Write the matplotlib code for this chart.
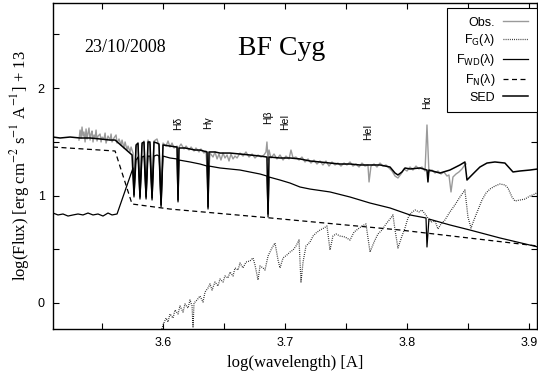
import matplotlib
matplotlib.use("Agg")
import matplotlib.pyplot as plt
from matplotlib.font_manager import FontProperties
from matplotlib.lines import Line2D

# ---------------- data (log wavelength, log flux + 13) ----------------
sed = [(3.5098, 1.544), (3.5156, 1.535), (3.5238, 1.544), (3.5320, 1.535), (3.5402, 1.535),
       (3.5484, 1.526), (3.5566, 1.516), (3.5607, 1.516), (3.5746, 1.377), (3.5762, 1.005),
       (3.5779, 1.470), (3.5795, 1.488), (3.5811, 0.986), (3.5828, 1.488), (3.5844, 1.498),
       (3.5861, 0.986), (3.5877, 1.498), (3.5893, 1.498), (3.5910, 0.977), (3.5926, 1.498),
       (3.5951, 1.488), (3.5967, 1.479), (3.5984, 0.912), (3.6000, 1.470), (3.6057, 1.460),
       (3.6115, 1.451), (3.6123, 0.958), (3.6131, 1.442), (3.6180, 1.442), (3.6221, 1.433),
       (3.6262, 1.423), (3.6303, 1.423), (3.6361, 1.405), (3.6369, 0.893), (3.6377, 1.405),
       (3.6426, 1.405), (3.6467, 1.395), (3.6549, 1.395), (3.6631, 1.386), (3.6713, 1.377),
       (3.6795, 1.367), (3.6852, 1.358), (3.6861, 0.828), (3.6869, 1.358), (3.6959, 1.349),
       (3.7041, 1.349), (3.7123, 1.340), (3.7205, 1.321), (3.7287, 1.312), (3.7369, 1.302),
       (3.7451, 1.293), (3.7533, 1.293), (3.7615, 1.284), (3.7697, 1.284), (3.7779, 1.284),
       (3.7861, 1.265), (3.7902, 1.209), (3.7926, 1.191), (3.7959, 1.219), (3.7984, 1.256),
       (3.8025, 1.247), (3.8107, 1.256), (3.8164, 1.237), (3.8172, 1.126), (3.8180, 1.237),
       (3.8270, 1.209), (3.8352, 1.237), (3.8434, 1.284), (3.8475, 1.312), (3.8492, 1.144),
       (3.8516, 1.172), (3.8557, 1.219), (3.8598, 1.265), (3.8656, 1.302), (3.8721, 1.312),
       (3.8803, 1.302), (3.8869, 1.219), (3.8926, 1.228), (3.9008, 1.237), (3.9074, 1.247)]

f_wd = [(3.5098, 0.837), (3.5139, 0.819), (3.5180, 0.828), (3.5221, 0.809), (3.5262, 0.819),
        (3.5303, 0.828), (3.5344, 0.819), (3.5385, 0.837), (3.5426, 0.819), (3.5467, 0.828),
        (3.5508, 0.809), (3.5549, 0.837), (3.5582, 0.819), (3.5623, 0.828), (3.5754, 1.256),
        (3.5762, 0.986), (3.5779, 1.330), (3.5795, 1.358), (3.5811, 0.967), (3.5828, 1.358),
        (3.5844, 1.367), (3.5861, 0.967), (3.5877, 1.367), (3.5893, 1.367), (3.5910, 0.958),
        (3.5926, 1.367), (3.5951, 1.377), (3.5967, 1.367), (3.5984, 0.893), (3.6000, 1.367),
        (3.6057, 1.349), (3.6115, 1.340), (3.6123, 0.940), (3.6131, 1.330), (3.6221, 1.312),
        (3.6303, 1.293), (3.6361, 1.274), (3.6369, 0.874), (3.6377, 1.274), (3.6467, 1.256),
        (3.6631, 1.237), (3.6795, 1.200), (3.6852, 1.181), (3.6861, 0.800), (3.6869, 1.172),
        (3.6959, 1.144), (3.7041, 1.116), (3.7123, 1.079), (3.7205, 1.060), (3.7369, 1.033),
        (3.7533, 0.986), (3.7697, 0.930), (3.7861, 0.884), (3.8025, 0.819), (3.8156, 0.791),
        (3.8164, 0.521), (3.8180, 0.781), (3.8352, 0.726), (3.8516, 0.679), (3.8762, 0.605),
        (3.9074, 0.521)]

f_n = [(3.5098, 1.451), (3.5607, 1.414), (3.5746, 0.921), (3.6057, 0.874),
       (3.6795, 0.800), (3.7943, 0.679), (3.9074, 0.530)]

f_g = [(3.5975, -0.298), (3.6000, -0.205), (3.6025, -0.140), (3.6041, -0.177), (3.6057, -0.102),
       (3.6082, -0.140), (3.6098, -0.065), (3.6123, -0.102), (3.6139, -0.028), (3.6164, -0.084),
       (3.6180, -0.009), (3.6205, -0.047), (3.6221, 0.028), (3.6238, -0.028), (3.6246, -0.223),
       (3.6254, 0.000), (3.6279, 0.028), (3.6303, 0.065), (3.6328, 0.009), (3.6344, 0.102),
       (3.6369, 0.140), (3.6385, 0.177), (3.6402, 0.121), (3.6426, 0.195), (3.6451, 0.158),
       (3.6467, 0.223), (3.6492, 0.195), (3.6508, 0.251), (3.6533, 0.233), (3.6549, 0.288),
       (3.6574, 0.251), (3.6590, 0.326), (3.6615, 0.307), (3.6631, 0.372), (3.6656, 0.326),
       (3.6680, 0.381), (3.6713, 0.391), (3.6738, 0.419), (3.6754, 0.353), (3.6779, 0.214),
       (3.6795, 0.344), (3.6820, 0.326), (3.6836, 0.307), (3.6861, 0.437), (3.6893, 0.512),
       (3.6918, 0.558), (3.6943, 0.400), (3.6959, 0.326), (3.6984, 0.419), (3.7016, 0.447),
       (3.7041, 0.474), (3.7066, 0.493), (3.7090, 0.530), (3.7115, 0.586), (3.7131, 0.195),
       (3.7148, 0.381), (3.7172, 0.530), (3.7205, 0.567), (3.7230, 0.623), (3.7254, 0.651),
       (3.7287, 0.679), (3.7320, 0.698), (3.7344, 0.716), (3.7369, 0.493), (3.7393, 0.623),
       (3.7418, 0.642), (3.7451, 0.623), (3.7492, 0.614), (3.7533, 0.586), (3.7566, 0.660),
       (3.7598, 0.688), (3.7631, 0.716), (3.7664, 0.735), (3.7697, 0.474), (3.7730, 0.567),
       (3.7762, 0.642), (3.7795, 0.679), (3.7828, 0.735), (3.7861, 0.781), (3.7885, 0.819),
       (3.7902, 0.679), (3.7926, 0.512), (3.7959, 0.623), (3.7984, 0.698), (3.8008, 0.791),
       (3.8033, 0.837), (3.8066, 0.865), (3.8098, 0.847), (3.8123, 0.865), (3.8148, 0.828),
       (3.8172, 0.791), (3.8197, 0.753), (3.8230, 0.763), (3.8254, 0.688), (3.8279, 0.735),
       (3.8311, 0.772), (3.8352, 0.847), (3.8393, 0.912), (3.8434, 0.986), (3.8475, 1.051),
       (3.8500, 0.800), (3.8525, 0.698), (3.8549, 0.772), (3.8582, 0.865), (3.8615, 0.958),
       (3.8648, 1.023), (3.8680, 1.060), (3.8721, 1.088), (3.8762, 1.107), (3.8803, 1.098),
       (3.8828, 1.070), (3.8861, 0.986), (3.8885, 0.949), (3.8926, 0.958), (3.8967, 0.967),
       (3.9008, 0.995), (3.9049, 1.014), (3.9074, 1.033)]

obs = [(3.5311, 1.516), (3.5320, 1.609), (3.5328, 1.535), (3.5336, 1.637), (3.5344, 1.553),
       (3.5352, 1.591), (3.5361, 1.498), (3.5369, 1.619), (3.5377, 1.526), (3.5385, 1.581),
       (3.5393, 1.628), (3.5402, 1.516), (3.5410, 1.572), (3.5418, 1.600), (3.5426, 1.498),
       (3.5434, 1.563), (3.5443, 1.535), (3.5451, 1.609), (3.5459, 1.507), (3.5467, 1.553),
       (3.5484, 1.572), (3.5492, 1.498), (3.5500, 1.544), (3.5516, 1.526), (3.5525, 1.581),
       (3.5533, 1.488), (3.5549, 1.553), (3.5566, 1.516), (3.5574, 1.572), (3.5582, 1.498),
       (3.5598, 1.535), (3.5615, 1.563), (3.5623, 1.488), (3.5639, 1.526), (3.5656, 1.470),
       (3.5664, 1.516), (3.5680, 1.442), (3.5689, 1.498), (3.5705, 1.423), (3.5713, 1.460),
       (3.5730, 1.405), (3.5738, 1.451), (3.5754, 1.395),
       (3.5762, 1.051), (3.5779, 1.451), (3.5795, 1.479), (3.5811, 1.033), (3.5828, 1.460),
       (3.5844, 1.507), (3.5861, 1.033), (3.5877, 1.516), (3.5893, 1.470), (3.5910, 1.023),
       (3.5926, 1.507), (3.5951, 1.526), (3.5967, 1.460), (3.5984, 0.958),
       (3.6000, 1.488), (3.6025, 1.460), (3.6041, 1.507), (3.6057, 1.451), (3.6074, 1.488),
       (3.6090, 1.442), (3.6115, 1.460), (3.6123, 1.144), (3.6131, 1.451), (3.6148, 1.479),
       (3.6172, 1.433), (3.6189, 1.460), (3.6213, 1.423), (3.6230, 1.451), (3.6254, 1.414),
       (3.6270, 1.442), (3.6295, 1.405), (3.6311, 1.433), (3.6336, 1.395), (3.6352, 1.414),
       (3.6369, 1.098), (3.6385, 1.395), (3.6410, 1.358), (3.6426, 1.405), (3.6443, 1.340),
       (3.6459, 1.386), (3.6475, 1.330), (3.6492, 1.395), (3.6508, 1.349), (3.6525, 1.377),
       (3.6541, 1.321), (3.6557, 1.386), (3.6574, 1.340), (3.6590, 1.367), (3.6607, 1.349),
       (3.6631, 1.395), (3.6656, 1.367), (3.6680, 1.405), (3.6705, 1.358), (3.6730, 1.386),
       (3.6754, 1.349), (3.6779, 1.377), (3.6803, 1.358), (3.6828, 1.377), (3.6844, 1.405),
       (3.6852, 1.498), (3.6861, 1.330), (3.6869, 1.423), (3.6885, 1.349), (3.6910, 1.386),
       (3.6934, 1.340), (3.6959, 1.377), (3.6984, 1.330), (3.7008, 1.367), (3.7033, 1.340),
       (3.7049, 1.423), (3.7066, 1.349), (3.7090, 1.358), (3.7115, 1.330), (3.7139, 1.358),
       (3.7164, 1.312), (3.7189, 1.340), (3.7213, 1.302), (3.7238, 1.330), (3.7262, 1.293),
       (3.7287, 1.321), (3.7311, 1.284), (3.7336, 1.321), (3.7361, 1.274), (3.7385, 1.312),
       (3.7410, 1.284), (3.7434, 1.302), (3.7459, 1.274), (3.7484, 1.302), (3.7508, 1.284),
       (3.7533, 1.312), (3.7557, 1.274), (3.7582, 1.293), (3.7607, 1.265), (3.7631, 1.302),
       (3.7656, 1.274), (3.7680, 1.284), (3.7689, 1.126), (3.7705, 1.274), (3.7730, 1.293),
       (3.7754, 1.265), (3.7779, 1.302), (3.7803, 1.274), (3.7828, 1.284), (3.7852, 1.256),
       (3.7877, 1.228), (3.7902, 1.181), (3.7926, 1.163), (3.7951, 1.200), (3.7975, 1.247),
       (3.8000, 1.228), (3.8025, 1.265), (3.8049, 1.237), (3.8074, 1.274), (3.8098, 1.247),
       (3.8123, 1.265), (3.8148, 1.228), (3.8164, 1.656), (3.8180, 1.219), (3.8205, 1.237),
       (3.8230, 1.209), (3.8254, 1.228), (3.8279, 1.200), (3.8303, 1.219), (3.8328, 1.181),
       (3.8344, 1.191), (3.8361, 1.033), (3.8377, 1.172), (3.8402, 1.200), (3.8426, 1.219),
       (3.8451, 1.247), (3.8467, 1.274), (3.8484, 1.293)]

line_ids = ["H\u03b4", "H\u03b3", "H\u03b2", "HeI", "HeI", "H\u03b1"]
line_pos = [(3.6123, 1.674), (3.6369, 1.674), (3.6861, 1.725), (3.7000, 1.684),
            (3.7680, 1.591), (3.8164, 1.870)]

legend_labels = ["Obs.", "F$_\\mathrm{G}$(\u03bb)", "F$_\\mathrm{WD}$(\u03bb)",
                 "F$_\\mathrm{N}$(\u03bb)", "SED"]
x_ticks = [3.6, 3.7, 3.8, 3.9]
x_ticklabels = ["3.6", "3.7", "3.8", "3.9"]
x_minor = [3.55, 3.65, 3.75, 3.85]
y_ticks = [0, 1, 2]
y_ticklabels = ["0", "1", "2"]
y_minor = [0.5, 1.5, 2.5]

# ---------------- figure ----------------
fig = plt.figure(figsize=(5.38, 3.79), dpi=100)
ax = fig.add_axes([53 / 538, 1 - 329 / 379, (537 - 53) / 538, 326 / 379])

def xy(pts):
    return [p[0] for p in pts], [p[1] for p in pts]

ax.plot(*xy(obs), color="#9a9a9a", lw=1.0, zorder=1)
ax.plot(*xy(f_g), color="#222222", lw=0.9, dashes=(0.7, 1.0), zorder=2)
ax.plot(*xy(f_n), color="black", lw=0.9, dashes=(4, 2.8), zorder=3)
ax.plot(*xy(f_wd), color="black", lw=0.9, zorder=4)
ax.plot(*xy(sed), color="black", lw=1.1, zorder=5)

ax.set_xlim(3.5098, 3.9066)
ax.set_ylim(-0.242, 2.791)

sans = "Liberation Sans"
serif = "Liberation Serif"

ax.set_xticks(x_ticks)
ax.set_xticklabels(x_ticklabels, fontfamily=sans, fontsize=9)
ax.set_xticks(x_minor, minor=True)
ax.set_yticks(y_ticks)
ax.set_yticklabels(y_ticklabels, fontfamily=sans, fontsize=9)
ax.set_yticks(y_minor, minor=True)
ax.tick_params(which="both", direction="in", top=True, right=True, length=4, width=0.8,
               pad=6)
for s in ax.spines.values():
    s.set_linewidth(1.0)

for t, (x, y) in zip(line_ids, line_pos):
    ax.text(x, y, t, rotation=90, ha="center", va="center", fontsize=7.5, fontfamily=sans)

ax.text(3.5689, 2.335, "23/10/2008", ha="center", va="baseline", fontsize=13, fontfamily=serif)
ax.text(3.6971, 2.31, "BF Cyg", ha="center", va="baseline", fontsize=20, fontfamily=serif)

ax.set_xlabel("log(wavelength) [A]", fontfamily=serif, fontsize=12, labelpad=4)
ax.set_ylabel(r"log(Flux) [erg cm$^{-2}$ s$^{-1}$ A$^{-1}$] + 13", fontfamily=serif,
              fontsize=12, math_fontfamily="stix", labelpad=4)

handles = [Line2D([], [], color="#9a9a9a", lw=1.0),
           Line2D([], [], color="#222222", lw=0.9, dashes=(0.7, 1.0)),
           Line2D([], [], color="black", lw=0.9),
           Line2D([], [], color="black", lw=0.9, dashes=(4, 2.8)),
           Line2D([], [], color="black", lw=1.1)]
prop = FontProperties(family=sans, size=9, math_fontfamily="dejavusans")
leg = ax.legend(handles, legend_labels, loc="upper right", bbox_to_anchor=(1.0, 0.985),
                borderaxespad=0, markerfirst=False, prop=prop, handlelength=2.0,
                handletextpad=0.65, labelspacing=0.3, borderpad=0.7, fancybox=False,
                framealpha=1, edgecolor="black")
leg.get_frame().set_linewidth(0.8)

fig.savefig("out.png", dpi=100)
